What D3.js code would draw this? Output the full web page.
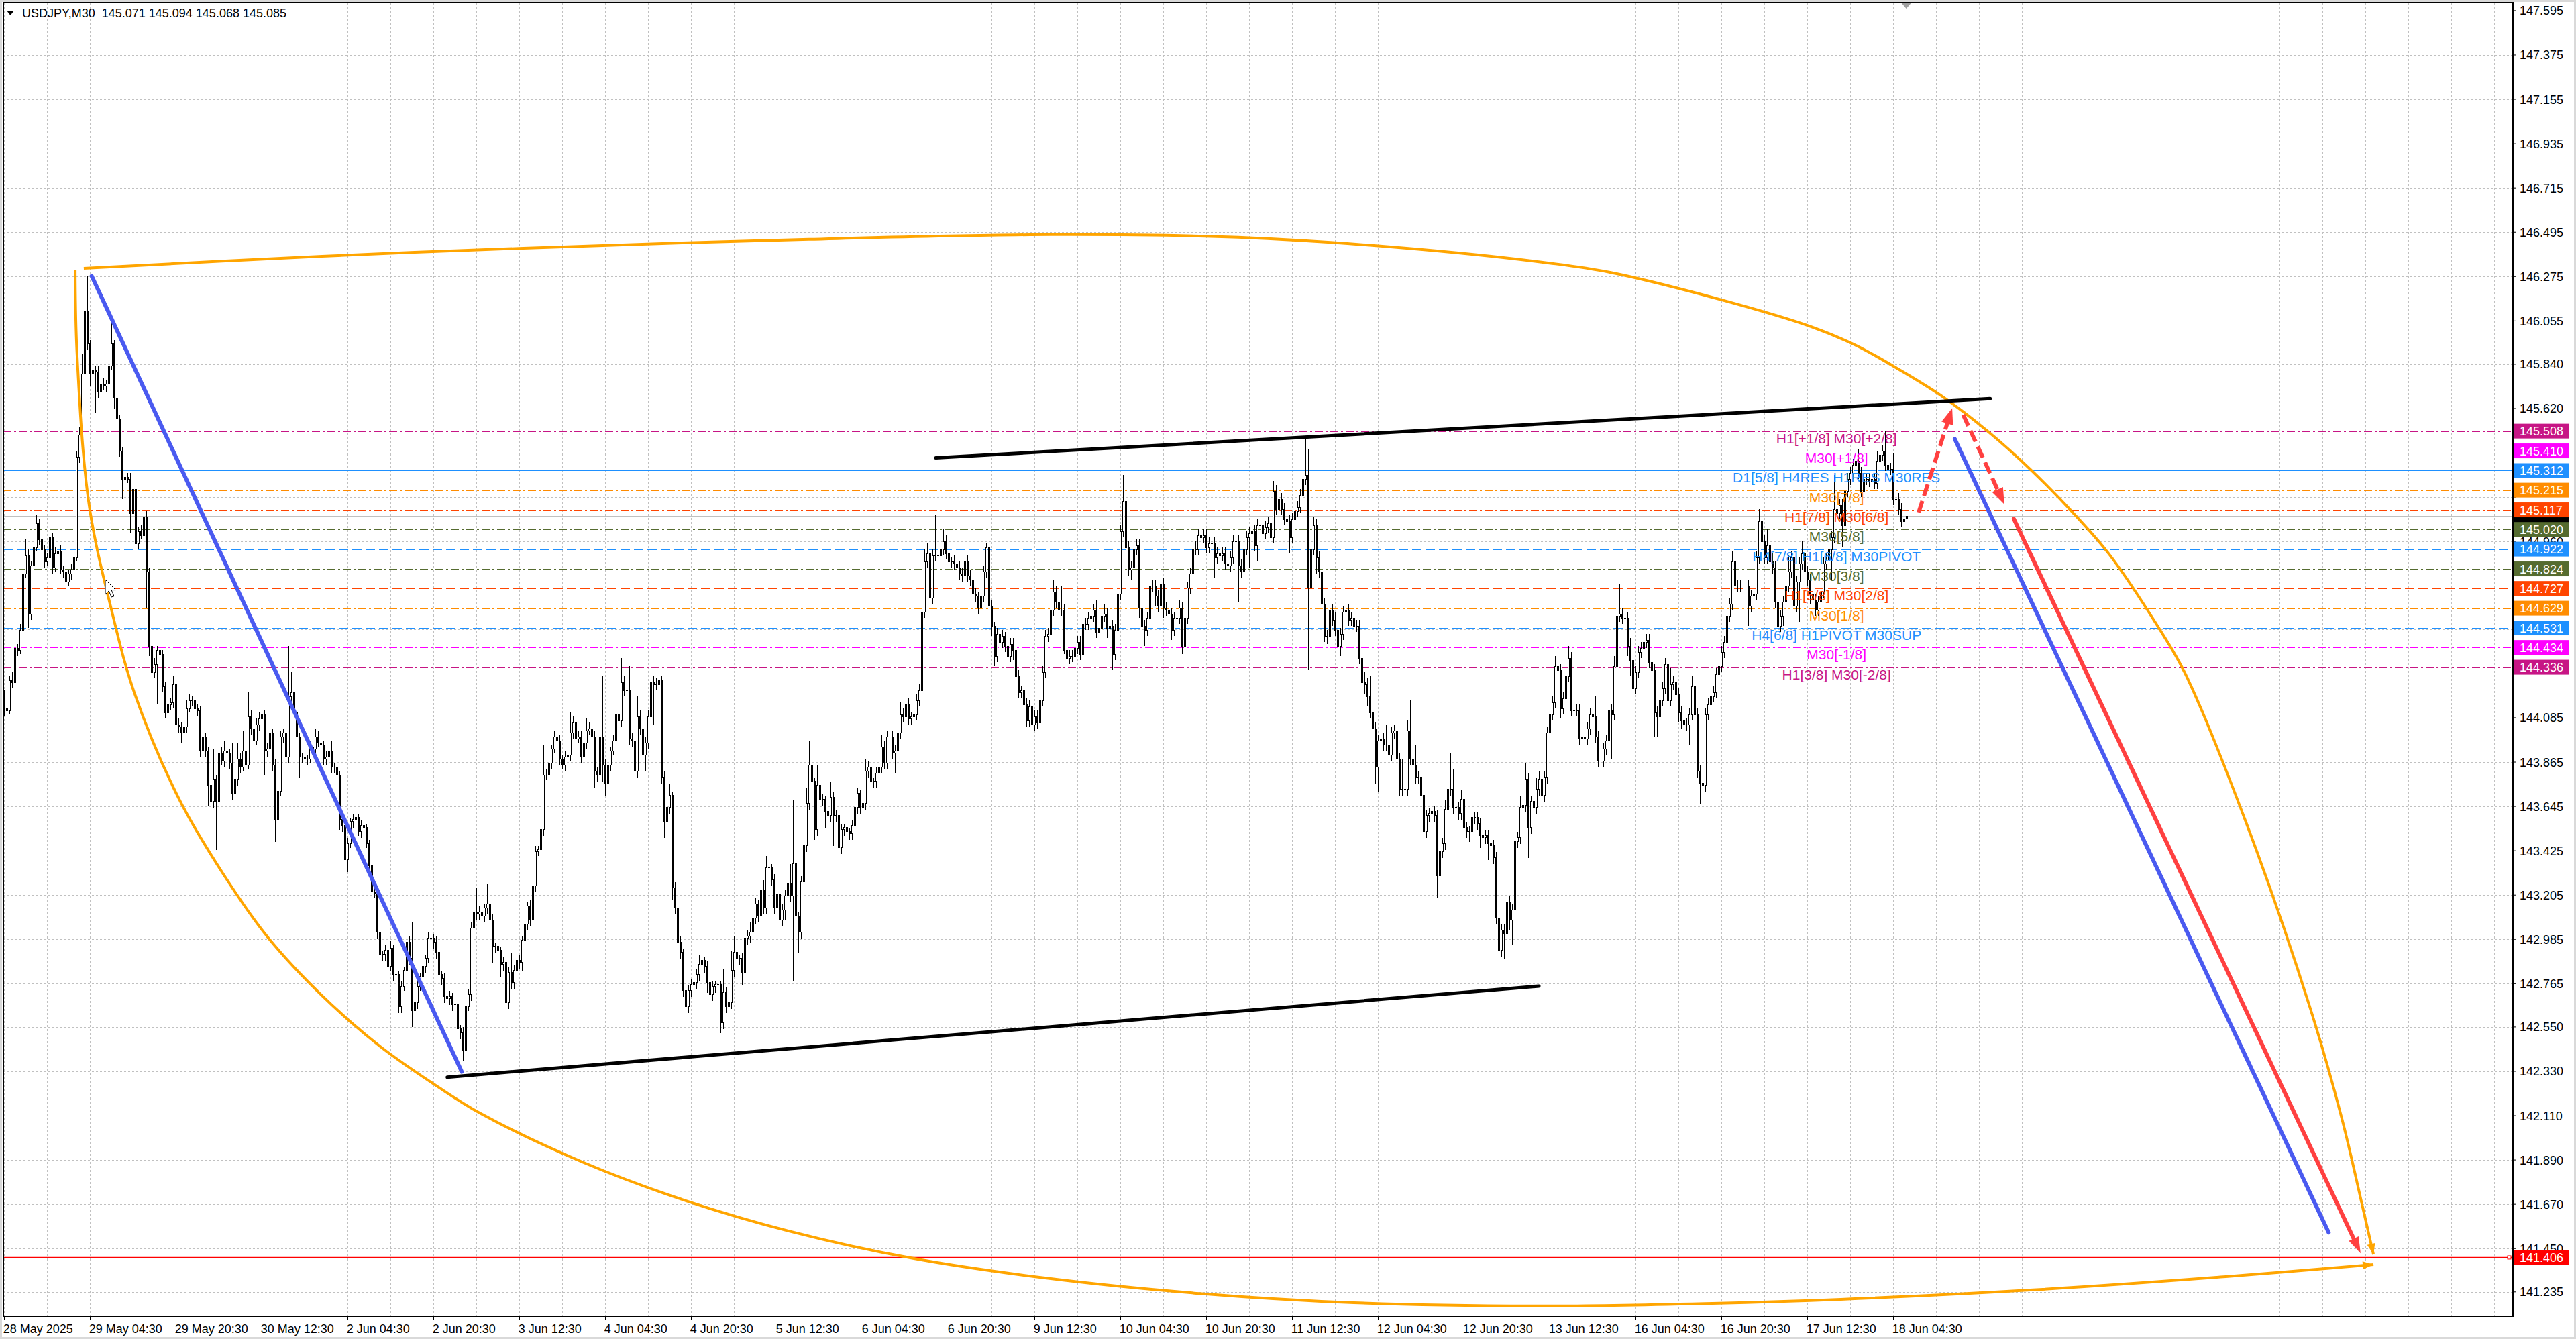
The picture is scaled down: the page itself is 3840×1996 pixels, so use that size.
<!DOCTYPE html>
<html>
<head>
<meta charset="utf-8">
<script src="https://cdn.jsdelivr.net/npm/d3@7"></script>
<style>
html, body { margin: 0; padding: 0; background: #fff; overflow: hidden; }
text { font-family: "Liberation Sans", Arial, sans-serif; }
</style>
</head>
<body>
<svg id="chart" width="3840" height="1996"></svg>
<script>
// ---- data (USDJPY M30) ----
const titleText = "USDJPY,M30  145.071 145.094 145.068 145.085";
const firstOpen = 144.20;

// close of every M30 bar, oldest first (bar 0 = 28 May 12:30)
const closes = [
  144.13,144.12,144.27,144.26,144.43,144.42,144.52,144.80,144.89,144.60,
  144.84,144.93,145.05,144.97,144.92,144.86,144.88,144.98,144.83,144.90,
  144.91,144.82,144.81,144.76,144.80,144.82,144.88,145.38,145.49,145.79,
  146.10,145.94,145.79,145.81,145.80,145.70,145.74,145.73,145.74,145.83,
  145.94,145.67,145.57,145.41,145.27,145.28,145.27,145.10,145.22,144.95,
  145.01,144.99,145.08,144.81,144.44,144.31,144.35,144.42,144.40,144.24,
  144.11,144.15,144.16,144.25,144.05,144.04,144.01,144.04,144.13,144.17,
  144.17,144.13,144.12,143.92,143.99,143.92,143.75,143.67,143.78,143.67,
  143.91,143.87,143.92,143.91,143.86,143.71,143.78,143.88,143.84,143.92,
  143.85,144.09,144.03,143.97,144.05,144.08,144.10,143.92,143.93,144.01,
  143.85,143.58,143.72,143.99,144.01,143.89,144.19,144.21,144.11,143.99,
  143.89,143.89,143.88,143.88,143.94,143.93,143.99,143.96,143.95,143.88,
  143.89,143.92,143.84,143.84,143.80,143.58,143.55,143.38,143.46,143.57,
  143.58,143.59,143.52,143.55,143.54,143.46,143.35,143.22,143.21,143.02,
  142.91,142.91,142.93,142.85,142.94,142.81,142.81,142.65,142.75,142.83,
  142.97,142.89,142.63,142.67,142.75,142.80,142.85,142.89,142.99,142.99,
  142.97,142.92,142.81,142.79,142.70,142.69,142.70,142.66,142.66,142.54,
  142.52,142.43,142.65,142.71,143.04,143.12,143.11,143.12,143.10,143.14,
  143.16,143.08,142.95,142.95,142.93,142.86,142.87,142.67,142.82,142.77,
  142.83,142.88,142.87,142.98,143.06,143.15,143.08,143.25,143.42,143.43,
  143.53,143.80,143.80,143.86,143.93,143.99,143.97,143.88,143.85,143.89,
  143.90,144.01,144.06,143.98,143.99,143.89,143.96,144.02,144.03,143.99,
  143.82,143.80,143.99,143.85,143.76,143.85,143.92,143.97,144.10,144.07,
  144.26,144.22,144.22,143.98,143.97,143.82,144.09,144.03,143.90,143.96,
  144.09,144.26,144.25,144.25,144.27,143.79,143.57,143.64,143.70,143.24,
  143.14,142.97,142.92,142.73,142.65,142.73,142.76,142.77,142.81,142.86,
  142.88,142.85,142.77,142.71,142.75,142.76,142.76,142.57,142.72,142.65,
  142.67,142.83,142.92,142.89,142.89,142.82,142.99,143.00,143.02,143.09,
  143.16,143.10,143.23,143.14,143.34,143.34,143.28,143.14,143.21,143.08,
  143.13,143.20,143.26,143.20,143.36,143.10,143.02,143.27,143.45,143.66,
  143.85,143.77,143.53,143.75,143.68,143.68,143.62,143.60,143.69,143.60,
  143.60,143.44,143.53,143.54,143.52,143.51,143.55,143.64,143.71,143.64,
  143.66,143.82,143.84,143.77,143.77,143.81,143.84,143.94,143.86,143.99,
  143.99,143.91,143.92,144.01,144.10,144.09,144.15,144.08,144.09,144.10,
  144.17,144.22,144.61,144.86,144.90,144.68,144.89,144.89,144.89,144.92,
  144.96,144.90,144.86,144.86,144.85,144.83,144.80,144.79,144.86,144.79,
  144.77,144.70,144.69,144.63,144.69,144.81,144.93,144.64,144.54,144.39,
  144.50,144.46,144.49,144.44,144.39,144.45,144.42,144.29,144.21,144.22,
  144.15,144.07,144.14,144.05,144.09,144.06,144.17,144.31,144.49,144.50,
  144.62,144.71,144.66,144.62,144.62,144.42,144.38,144.39,144.39,144.43,
  144.46,144.40,144.55,144.55,144.58,144.59,144.62,144.51,144.53,144.59,
  144.60,144.53,144.54,144.40,144.52,144.70,145.01,145.16,144.93,144.82,
  144.83,144.92,144.94,144.63,144.54,144.52,144.58,144.74,144.74,144.69,
  144.64,144.75,144.63,144.62,144.60,144.52,144.58,144.58,144.63,144.44,
  144.58,144.73,144.80,144.92,144.92,144.99,144.98,144.99,144.93,144.95,
  144.95,144.88,144.90,144.89,144.90,144.85,144.84,144.88,144.96,144.96,
  144.84,144.81,144.92,144.98,145.00,145.01,144.94,145.04,145.04,145.00,
  145.03,145.05,144.98,145.21,145.12,145.17,145.12,145.07,145.06,144.98,
  145.07,145.11,145.13,145.19,145.27,145.29,144.73,144.92,145.04,144.88,
  144.81,144.65,144.49,144.49,144.62,144.57,144.52,144.44,144.50,144.61,
  144.62,144.57,144.58,144.54,144.54,144.38,144.26,144.25,144.19,144.11,
  144.03,143.84,143.97,143.98,143.95,143.95,143.90,144.01,144.02,143.88,
  143.73,143.73,143.73,144.02,143.88,143.85,143.79,143.79,143.70,143.52,
  143.60,143.61,143.62,143.60,143.30,143.42,143.46,143.63,143.73,143.73,
  143.64,143.64,143.61,143.68,143.54,143.52,143.52,143.59,143.59,143.56,
  143.50,143.49,143.50,143.46,143.45,143.39,143.09,142.93,143.03,143.01,
  143.17,143.08,143.13,143.47,143.49,143.64,143.65,143.78,143.54,143.67,
  143.64,143.73,143.78,143.70,143.79,144.01,144.10,144.16,144.34,144.32,
  144.13,144.18,144.29,144.38,144.12,144.12,144.12,143.98,143.99,143.98,
  144.03,144.10,144.09,143.99,143.87,143.87,143.93,143.97,144.12,144.10,
  144.34,144.59,144.60,144.58,144.58,144.44,144.37,144.23,144.31,144.41,
  144.43,144.46,144.47,144.36,144.32,144.11,144.09,144.17,144.23,144.35,
  144.17,144.25,144.26,144.20,144.11,144.07,144.05,144.05,144.10,144.24,
  144.10,143.82,143.76,143.75,144.10,144.15,144.19,144.21,144.30,144.34,
  144.41,144.46,144.59,144.65,144.86,144.74,144.74,144.74,144.74,144.74,
  144.64,144.69,144.70,144.88,145.06,144.96,144.88,144.94,144.86,144.83,
  144.66,144.54,144.59,144.66,144.74,144.81,144.88,144.64,144.76,144.85,
  144.90,144.81,144.77,144.70,144.67,144.62,144.66,144.71,144.85,144.87,
  144.92,144.98,145.12,145.10,145.14,145.04,145.21,145.27,145.30,145.34,
  145.36,145.30,145.21,145.27,145.27,145.26,145.27,145.25,145.36,145.39,
  145.41,145.34,145.32,145.32,145.17,145.17,145.12,145.06,145.071,145.085
];

// upper / lower shadow of each bar, in pips (0.01)
const upWick = [
  2,3,2,4,3,2,3,2,8,3, 2,3,4,2,3,2,2,5,2,3, 2,3,2,1,2,3,2,3,4,10, 5,18,2,3,2,3,2,3,2,3,
  13,2,3,2,2,3,2,3,2,4, 2,3,3,3,2,2,3,2,5,2, 2,3,2,4,2,3,2,3,4,3, 2,3,2,2,3,2,2,2,15,2,
  4,3,5,3,2,10,3,8,3,10, 3,12,3,2,3,3,13,2,3,4, 2,3,4,3,2,3,25,10,3,2, 2,2,3,2,3,2,4,3,3,2,
  3,4,5,2,3,2,2,2,3,2, 3,2,2,3,2,2,2,3,2,2, 3,2,3,2,4,2,3,2,3,2, 3,3,18,2,3,2,3,2,3,5,
  2,3,2,2,3,2,3,2,2,2, 2,3,3,3,3,2,12,3,3,2, 10,2,3,2,3,2,3,2,3,10, 3,2,3,2,3,2,3,4,3,2,
  3,15,3,4,2,3,5,3,2,3, 3,10,3,2,3,3,2,6,3,2, 3,2,4,30,3,3,2,3,3,2, 12,3,3,12,3,3,10,3,3,3,
  3,5,3,3,4,2,3,3,6,2, 3,2,3,2,3,3,3,6,3,5, 3,2,3,2,3,2,6,2,12,3, 3,10,8,3,2,3,3,3,5,3,
  3,2,3,5,6,3,2,3,3,2, 3,3,3,10,32,3,2,3,3,8, 12,8,2,10,3,3,2,3,8,3, 3,2,3,2,3,2,3,3,3,2,
  3,6,3,6,2,3,3,6,3,3, 15,3,3,3,6,3,6,3,2,3, 3,3,3,6,5,3,3,20,3,3, 6,3,3,2,3,2,3,3,3,3,
  3,3,3,2,3,3,2,3,3,2, 3,3,3,2,3,3,3,2,3,2, 3,3,3,2,3,3,3,3,3,3, 3,6,3,5,12,3,2,3,3,3,
  3,3,3,3,3,2,3,5,3,4, 5,3,3,3,3,3,3,13,3,3, 3,3,3,3,3,3,3,8,3,3, 3,3,3,3,3,3,3,3,4,3,
  3,3,3,3,4,3,3,3,3,3, 3,3,3,3,3,3,3,3,3,24, 3,3,3,3,3,20,3,3,3,3, 3,3,8,5,3,3,3,3,3,3,
  3,3,3,3,3,18,13,3,4,3, 3,3,3,3,6,3,4,3,3,3, 8,3,3,3,3,3,3,5,3,10, 3,3,3,10,3,10,3,3,3,3,
  3,15,3,5,15,3,10,3,3,3, 3,3,15,3,3,3,3,5,4,18, 10,3,3,5,3,3,3,3,3,3, 3,3,3,3,3,3,3,3,3,3,
  12,3,3,3,3,6,3,8,3,3, 3,6,4,12,3,3,3,3,5,6, 3,3,5,6,3,3,3,3,3,3, 3,3,3,10,3,3,3,3,3,3,
  5,8,15,3,3,3,4,3,3,3, 3,3,3,3,3,3,3,3,3,3, 8,8,3,3,3,3,3,3,3,5, 3,3,3,3,3,3,10,3,3,3,
  3,3,3,3,5,3,3,3,10,3, 3,3,3,3,6,3,3,8,3,4, 3,3,3,3,3,8,3,16,3,3, 6,3,3,3,3,3,3,5,3,3,
  3,3,17,5,3,3,3,3,3,3, 6,6,3,3,3,3,3,3,5,3, 3,10,3,3,8,3,3,3,3,0.9
];
const dnWick = [
  4,3,2,3,2,3,2,2,2,7, 3,2,2,3,2,3,2,2,3,2, 3,2,3,2,2,3,2,2,3,2, 3,3,6,2,20,3,3,2,3,2,
  2,5,3,3,10,3,2,10,3,5, 3,2,3,18,5,6,3,20,3,3, 3,2,3,3,8,3,5,2,3,2, 3,2,3,3,2,3,10,15,3,24,
  3,2,3,2,3,3,2,3,3,2, 3,2,3,3,2,3,3,12,3,2, 3,11,3,2,3,5,3,3,8,3, 10,3,8,3,2,3,3,2,3,3,
  3,2,3,3,2,5,3,6,6,2, 3,3,2,3,3,2,3,3,2,3, 6,3,3,3,2,3,3,3,3,2, 3,3,8,4,3,2,3,3,2,3,
  3,3,2,3,3,2,3,3,2,3, 3,5,3,2,3,2,3,3,2,3, 3,3,8,3,2,6,3,6,3,3, 3,2,3,4,3,3,3,2,3,2,
  3,3,2,3,3,2,3,3,2,3, 3,3,3,3,2,3,3,3,2,3, 8,3,3,8,6,3,3,2,3,3, 3,3,3,3,3,3,3,3,5,8,
  3,3,20,3,3,3,8,5,3,6, 3,4,3,3,6,3,3,3,3,3, 3,3,5,3,3,3,3,5,3,3, 8,3,3,3,3,6,12,3,3,3,
  3,3,3,3,3,3,3,3,3,6, 3,5,3,3,42,20,10,3,3,3, 3,3,5,3,3,3,8,3,3,15, 3,3,3,3,3,3,3,3,3,3,
  3,3,3,3,3,3,3,3,3,3, 3,3,10,3,3,3,3,3,3,3, 3,3,12,3,3,5,3,3,3,6, 3,3,4,3,3,3,3,3,3,3,
  3,5,3,3,3,3,3,10,5,5, 3,10,3,3,3,3,5,3,3,3, 8,3,3,8,3,3,3,3,3,3, 3,3,3,3,3,2,8,3,3,3,
  3,3,3,3,3,3,3,3,3,3, 3,5,3,8,3,3,3,3,8,3, 5,3,3,5,10,8,3,3,3,5, 3,3,5,3,3,5,3,3,3,4,
  3,3,3,3,3,3,3,3,3,3, 3,10,3,3,3,3,3,3,3,3, 18,3,3,3,15,3,3,8,3,8, 3,3,3,3,3,3,3,3,3,8,
  3,3,3,3,3,3,41,5,3,8, 3,3,3,4,3,3,3,10,5,3, 3,3,3,3,3,3,10,5,5,3, 3,8,12,3,3,3,3,3,3,3,
  3,3,12,3,3,3,3,3,5,3, 3,3,3,3,11,14,3,3,3,3, 3,3,3,3,3,3,5,3,3,3, 6,3,3,8,3,3,3,12,3,12,
  3,5,12,3,3,3,3,3,15,3, 10,3,3,3,3,3,3,3,3,3, 5,3,3,3,3,3,3,3,3,5, 3,3,3,3,3,3,3,3,3,22,
  3,3,3,3,3,5,8,7,3,3, 3,3,3,3,3,12,10,3,3,3, 3,3,3,3,5,4,6,3,10,3, 3,3,10,12,3,3,3,3,3,3,
  3,3,3,3,3,3,3,3,3,3, 10,3,3,3,3,3,3,3,3,3, 3,8,3,5,3,3,3,3,3,20, 3,3,3,5,3,3,3,3,3,3,
  3,15,3,3,3,11,15,3,3,3, 3,3,3,3,3,3,3,3,3,3, 3,3,5,3,3,3,3,3,3,0.3
];

const timeLabels = ["28 May 2025","29 May 04:30","29 May 20:30","30 May 12:30","2 Jun 04:30",
  "2 Jun 20:30","3 Jun 12:30","4 Jun 04:30","4 Jun 20:30","5 Jun 12:30","6 Jun 04:30",
  "6 Jun 20:30","9 Jun 12:30","10 Jun 04:30","10 Jun 20:30","11 Jun 12:30","12 Jun 04:30",
  "12 Jun 20:30","13 Jun 12:30","16 Jun 04:30","16 Jun 20:30","17 Jun 12:30","18 Jun 04:30"];
const barsPerTimeLabel = 32;
const barsPerGridLine = 16;

// price grid; the ones hidden under level boxes get only a grid line
const priceTicks = ["147.595","147.375","147.155","146.935","146.715","146.495","146.275",
  "146.055","145.840","145.620","145.400","145.180","144.960","144.740","144.525","144.305",
  "144.085","143.865","143.645","143.425","143.205","142.985","142.765","142.550","142.330",
  "142.110","141.890","141.670","141.450","141.235"];
const hiddenTicks = ["145.400","145.180","144.525","144.305"];

// murrey / pivot levels
const levelPrices = [145.508,145.410,145.312,145.215,145.117,145.020,144.922,144.824,
  144.727,144.629,144.531,144.434,144.336];
const levelNames = ["H1[+1/8] M30[+2/8]","M30[+1/8]","D1[5/8] H4RES H1RES M30RES","M30[7/8]",
  "H1[7/8] M30[6/8]","M30[5/8]","H4[7/8] H1[6/8] M30PIVOT","M30[3/8]","H1[5/8] M30[2/8]",
  "M30[1/8]","H4[6/8] H1PIVOT M30SUP","M30[-1/8]","H1[3/8] M30[-2/8]"];
const levelLabelBar = 683;
const bidPrice = 145.085;
const redLinePrice = 141.406;

// hand drawn objects, points as [bar, price]
const blueLines = [[[32.75,146.278],[170.65,142.328]], [[727.05,145.469],[866.4,141.53]]];
const blackLines = [[[165.25,142.301],[572.1,142.753]], [[347.3,145.375],[740.25,145.669]]];
const redDashArrows = [[[713.6,145.104],[726.1,145.622]], [[730.2,145.589],[745.5,145.145]]];
const redArrow = [[749.05,145.073],[878.3,141.427]];
const orangeTop = [[29.8,146.316],[118.6,146.376],[193.6,146.416],[300,146.46],[390.3,146.483],
  [460,146.47],[522.8,146.416],[576,146.342],[598.6,146.296],[640.3,146.159],[673.6,146.026],
  [690.3,145.933],[706.8,145.810],[722.1,145.683],[739.1,145.510],[756.1,145.307],[773.1,145.074],
  [784.6,144.897],[803.1,144.531],[812.8,144.308],[836,143.552],[859.3,142.653],[871.3,142.097],
  [879.1,141.654],[883.1,141.421]];
const orangeBottom = [[26.6,146.309],[27.3,145.886],[31.8,145.140],[40.3,144.611],[48.6,144.211],
  [65.3,143.682],[81.8,143.309],[98.6,142.992],[118.6,142.706],[140.3,142.453],[161.8,142.253],
  [177.8,142.120],[216.1,141.877],[254.3,141.687],[292.6,141.537],[337.8,141.404],[388.1,141.304],
  [445.6,141.227],[503.1,141.181],[574.6,141.165],[636.8,141.178],[684.6,141.198],[756.3,141.245],
  [828.1,141.311],[883.1,141.371]];

// ---- styles ----
const DASHDOT = "12,4,3,4", DASH = "14,6";
const levelStyle = [
  {c: "#C71585", d: DASHDOT}, {c: "#FF00FF", d: DASHDOT}, {c: "#1E90FF", d: null},
  {c: "#FF8C00", d: DASHDOT}, {c: "#FF4500", d: DASHDOT}, {c: "#556B2F", d: DASHDOT},
  {c: "#1E90FF", d: DASH},    {c: "#556B2F", d: DASHDOT}, {c: "#FF4500", d: DASH},
  {c: "#FF8C00", d: DASHDOT}, {c: "#1E90FF", d: DASH},    {c: "#FF00FF", d: DASHDOT},
  {c: "#C71585", d: DASHDOT}
];
const BLUE = "#4a5af0", RED = "#ff4040", ORANGE = "#ffa500";

const plot = {left: 5, top: 4, right: 3746, bottom: 1962};

const x = d3.scaleLinear().domain([0, 704]).range([5.7, 2821.7]);
const y = d3.scaleLinear().domain([146.275, 141.235]).range([412.3, 1925.8]);

const svg = d3.select("#chart");

svg.append("rect").attr("width", 3840).attr("height", 1996).attr("fill", "#d9d9d9");
svg.append("rect").attr("x", 3).attr("y", 3).attr("width", 3834).attr("height", 1990).attr("fill", "#fff");

svg.append("clipPath").attr("id", "plotClip").append("rect")
  .attr("x", plot.left).attr("y", plot.top)
  .attr("width", plot.right - plot.left).attr("height", plot.bottom - plot.top);

const plotG = svg.append("g").attr("clip-path", "url(#plotClip)");

// grid
const gridG = plotG.append("g").attr("stroke", "#c0c0c0").attr("stroke-width", 1)
  .attr("stroke-dasharray", "3,3").attr("shape-rendering", "crispEdges");
gridG.selectAll("line.h").data(priceTicks).join("line")
  .attr("x1", plot.left).attr("x2", plot.right)
  .attr("y1", d => Math.round(y(+d)) + 0.5).attr("y2", d => Math.round(y(+d)) + 0.5);
const gridBars = d3.range(0, x.invert(plot.right), barsPerGridLine);
gridG.selectAll("line.v").data(gridBars).join("line")
  .attr("y1", plot.top).attr("y2", plot.bottom)
  .attr("x1", d => Math.round(x(d)) + 0.5).attr("x2", d => Math.round(x(d)) + 0.5);

// level lines
const levels = levelPrices.map((p, i) => ({p, name: levelNames[i], ...levelStyle[i]}));
plotG.append("g").attr("shape-rendering", "crispEdges").selectAll("line").data(levels).join("line")
  .attr("x1", plot.left).attr("x2", plot.right)
  .attr("y1", d => Math.round(y(d.p)) + 0.5).attr("y2", d => Math.round(y(d.p)) + 0.5)
  .attr("stroke", d => d.c).attr("stroke-width", 1.3)
  .attr("stroke-dasharray", d => d.d);

// bid line and red horizontal line
plotG.append("line").attr("x1", plot.left).attr("x2", plot.right)
  .attr("y1", y(bidPrice)).attr("y2", y(bidPrice))
  .attr("stroke", "#c0c0c0").attr("stroke-width", 1.5);
plotG.append("line").attr("x1", plot.left).attr("x2", plot.right)
  .attr("y1", y(redLinePrice)).attr("y2", y(redLinePrice))
  .attr("stroke", "#ff0000").attr("stroke-width", 1.5);
plotG.append("rect").attr("x", plot.right - 8).attr("y", y(redLinePrice) - 2.5)
  .attr("width", 5).attr("height", 5).attr("fill", "#fff").attr("stroke", "#ff0000");

// candles
const candles = closes.map((c, i) => {
  const o = i === 0 ? firstOpen : closes[i - 1];
  return {i, o, c, h: Math.max(o, c) + upWick[i] / 100, l: Math.min(o, c) - dnWick[i] / 100};
});
const cg = plotG.append("g").attr("shape-rendering", "crispEdges");
cg.selectAll("line").data(candles).join("line")
  .attr("x1", d => Math.round(x(d.i)) + 0.5).attr("x2", d => Math.round(x(d.i)) + 0.5)
  .attr("y1", d => y(d.h)).attr("y2", d => y(d.l))
  .attr("stroke", "#000").attr("stroke-width", 1);
cg.selectAll("rect").data(candles).join("rect")
  .attr("x", d => Math.round(x(d.i)) - 0.5).attr("width", 2)
  .attr("y", d => y(Math.max(d.o, d.c)))
  .attr("height", d => Math.max(0.01, Math.abs(y(d.o) - y(d.c))))
  .attr("fill", d => d.c >= d.o ? "#fff" : "#000")
  .attr("stroke", "#000").attr("stroke-width", 1);

// level names on chart
plotG.append("g").selectAll("text").data(levels).join("text")
  .attr("x", x(levelLabelBar)).attr("y", d => y(d.p) + 18)
  .attr("text-anchor", "middle").attr("font-size", 21).attr("fill", d => d.c)
  .text(d => d.name);

// drawings
const drawG = plotG.append("g").attr("fill", "none").attr("stroke-linecap", "butt");
const seg = d3.line().x(d => x(d[0])).y(d => y(d[1]));
const curve = d3.line().x(d => x(d[0])).y(d => y(d[1])).curve(d3.curveCatmullRom.alpha(0.5));

function arrowHead(g, x1, y1, x2, y2, len, wid, color) {
  const a = Math.atan2(y2 - y1, x2 - x1);
  const bx = x2 - len * Math.cos(a), by = y2 - len * Math.sin(a);
  const nx = -Math.sin(a) * wid / 2, ny = Math.cos(a) * wid / 2;
  g.append("path").attr("d", `M${x2},${y2}L${bx + nx},${by + ny}L${bx - nx},${by - ny}Z`)
    .attr("fill", color).attr("stroke", "none");
}
function shortened(p, len) {
  const x1 = x(p[0][0]), y1 = y(p[0][1]), x2 = x(p[1][0]), y2 = y(p[1][1]);
  const L = Math.hypot(x2 - x1, y2 - y1);
  return {x1, y1, x2, y2, ex: x2 - (x2 - x1) * len / L, ey: y2 - (y2 - y1) * len / L};
}

drawG.selectAll("path.orange").data([orangeTop, orangeBottom]).join("path")
  .attr("d", curve).attr("stroke", ORANGE).attr("stroke-width", 4);
[orangeTop, orangeBottom].forEach(pts => {
  const a = pts[pts.length - 2], b = pts[pts.length - 1];
  arrowHead(drawG, x(a[0]), y(a[1]), x(b[0]), y(b[1]), 16, 12, ORANGE);
});

blackLines.forEach(l => drawG.append("path").attr("d", seg(l)).attr("stroke", "#000")
  .attr("stroke-width", 5).attr("stroke-linecap", "round"));
blueLines.forEach(l => drawG.append("path").attr("d", seg(l)).attr("stroke", BLUE)
  .attr("stroke-width", 6).attr("stroke-linecap", "round"));

redDashArrows.forEach(l => {
  const s = shortened(l, 16);
  drawG.append("line").attr("x1", s.x1).attr("y1", s.y1).attr("x2", s.ex).attr("y2", s.ey)
    .attr("stroke", RED).attr("stroke-width", 6).attr("stroke-dasharray", "18,8");
  arrowHead(drawG, s.x1, s.y1, s.x2, s.y2, 24, 18, RED);
});
{
  const s = shortened(redArrow, 16);
  drawG.append("line").attr("x1", s.x1).attr("y1", s.y1).attr("x2", s.ex).attr("y2", s.ey)
    .attr("stroke", RED).attr("stroke-width", 6).attr("stroke-linecap", "round");
  arrowHead(drawG, s.x1, s.y1, s.x2, s.y2, 24, 16, RED);
}

// mouse pointer left on the chart
const cursorPts = [[0,0],[0,17],[4,13],[7,20],[10,19],[7,12],[12,12]];
plotG.append("path")
  .attr("d", "M" + cursorPts.map(p => [157 + p[0] * 1.3, 864 + p[1] * 1.3].join(",")).join("L") + "Z")
  .attr("fill", "#fff").attr("stroke", "#000").attr("stroke-width", 1);

// chart shift marker
svg.append("path").attr("d", `M${x(709) - 7},${plot.top + 1}L${x(709) + 7},${plot.top + 1}L${x(709)},${plot.top + 9}Z`)
  .attr("fill", "#a0a0a0");

// frame
svg.append("rect").attr("x", plot.left).attr("y", plot.top)
  .attr("width", plot.right - plot.left).attr("height", plot.bottom - plot.top)
  .attr("fill", "none").attr("stroke", "#000").attr("stroke-width", 2);

// price axis
const axisG = svg.append("g").attr("font-size", 18);
axisG.selectAll("line").data(priceTicks).join("line")
  .attr("x1", plot.right).attr("x2", plot.right + 5)
  .attr("y1", d => y(+d)).attr("y2", d => y(+d)).attr("stroke", "#000");
axisG.selectAll("text").data(priceTicks.filter(t => !hiddenTicks.includes(t))).join("text")
  .attr("x", 3756).attr("y", d => y(+d) + 6.5).attr("fill", "#000").text(d => d);

function priceBox(p, fill, withText) {
  const g = svg.append("g");
  g.append("rect").attr("x", 3748).attr("y", y(p) - 11).attr("width", 82).attr("height", 22).attr("fill", fill);
  if (withText) {
    g.append("text").attr("x", 3756).attr("y", y(p) + 6.5).attr("font-size", 18)
      .attr("fill", "#fff").text(p.toFixed(3));
  }
}
priceBox(bidPrice, "#000", false);   // covered by the neighbouring level boxes
levels.forEach(l => priceBox(l.p, l.c, true));
priceBox(redLinePrice, "#ff0000", true);

// time axis
const tG = svg.append("g").attr("font-size", 18);
tG.selectAll("line").data(timeLabels).join("line")
  .attr("x1", (d, i) => Math.round(x(i * barsPerTimeLabel)) + 0.5)
  .attr("x2", (d, i) => Math.round(x(i * barsPerTimeLabel)) + 0.5)
  .attr("y1", plot.bottom).attr("y2", plot.bottom + 5).attr("stroke", "#000");
tG.selectAll("text").data(timeLabels).join("text")
  .attr("x", (d, i) => x(i * barsPerTimeLabel) - 1).attr("y", 1987)
  .attr("fill", "#000").text(d => d);

// title
svg.append("path").attr("d", "M10,16L21,16L15.5,23Z").attr("fill", "#000");
svg.append("text").attr("x", 33).attr("y", 26).attr("font-size", 18)
  .attr("xml:space", "preserve").style("white-space", "pre").text(titleText);
</script>
</body>
</html>
